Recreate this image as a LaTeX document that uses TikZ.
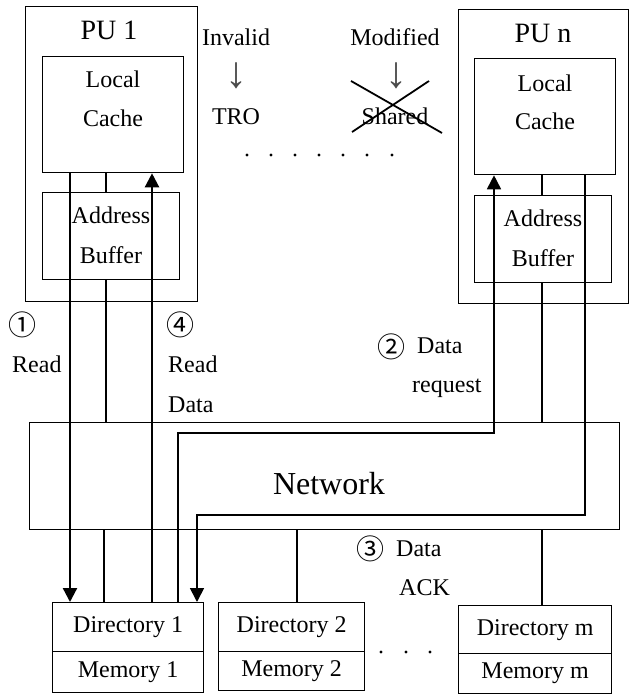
\documentclass[tikz,border=0pt]{standalone}
\usepackage{fontspec}
\setmainfont{Liberation Serif}
\newfontfamily\cjk{Noto Sans CJK SC}
\usetikzlibrary{arrows.meta}

\begin{document}
\begin{tikzpicture}[x=1pt,y=-1pt,
  box/.style={draw, line width=1.3pt, inner sep=0pt, anchor=north west,
              font=\fontsize{24}{28}\selectfont},
  txt/.style={inner sep=0pt, font=\fontsize{24}{28}\selectfont},
  title/.style={inner sep=0pt, font=\fontsize{28}{32}\selectfont, anchor=base},
  downmark/.style={inner sep=0pt, font=\fontsize{44}{48}\selectfont, text=black!70},
  num/.style={inner sep=0pt, font=\cjk\fontsize{28}{32}\selectfont},
  thinline/.style={line width=1.1pt},
  bigarrow/.style={line width=2.3pt, -{Triangle[length=14pt,width=14pt]}},
  midarrow/.style={line width=1.7pt, -{Triangle[length=14pt,width=14pt]}},
  dot/.style={fill=black, draw=none}
]
\fill[white] (0,0) rectangle (632,696);
\useasboundingbox (0,0) rectangle (632,696);

% processing unit 1
\node[box, minimum width=172pt, minimum height=295pt] (pu1) at (25,6) {};
\node[box, minimum width=141pt, minimum height=116pt] (c1) at (42,56) {};
\node[box, minimum width=137pt, minimum height=87pt] (b1) at (42,192) {};
\node[title] (pu1t) at (109,39) {PU 1};
\node[txt, anchor=base] (c1a) at (113,87) {Local};
\node[txt, anchor=base] (c1b) at (113,126) {Cache};
\node[txt, anchor=base] (b1a) at (111,223) {Address};
\node[txt, anchor=base] (b1b) at (111,263) {Buffer};

% processing unit n
\node[box, minimum width=170pt, minimum height=294pt] (pun) at (458,9) {};
\node[box, minimum width=141pt, minimum height=116pt] (cn) at (474,58) {};
\node[box, minimum width=137pt, minimum height=87pt] (bn) at (474,195) {};
\node[title] (punt) at (543,42) {PU n};
\node[txt, anchor=base] (cna) at (545,91) {Local};
\node[txt, anchor=base] (cnb) at (545,129) {Cache};
\node[txt, anchor=base] (bna) at (543,226) {Address};
\node[txt, anchor=base] (bnb) at (543,266) {Buffer};

% state transitions
\node[txt, anchor=base] (inv) at (236,45) {Invalid};
\node[downmark] (inva) at (236,76) {↓};
\node[txt, anchor=base] (tro) at (236,124) {TRO};
\node[txt, anchor=base] (mod) at (395,45) {Modified};
\node[downmark] (moda) at (396,76) {↓};
\node[txt, anchor=base] (shr) at (395,124) {Shared};
\draw[line width=1.8pt] (351,81) -- (442,133);
\draw[line width=1.8pt] (352,132) -- (429,81);

% ellipsis between the processing units
\foreach \x in {247,271,295,319,343,367,392}
  \fill[dot] (\x,155) circle (1.7pt);

% interconnect
\node[box, minimum width=590pt, minimum height=107pt] (net) at (29,422) {};
\node[inner sep=0pt, font=\fontsize{32}{36}\selectfont, anchor=base] (nett) at (329,494) {Network};

% directories and memories
\node[box, minimum width=151pt, minimum height=49pt] (d1) at (52,602) {Directory 1};
\node[box, minimum width=151pt, minimum height=41pt] (m1) at (52,651) {Memory 1};
\node[box, minimum width=146pt, minimum height=49pt] (d2) at (218,602) {Directory 2};
\node[box, minimum width=146pt, minimum height=39pt] (m2) at (218,651) {Memory 2};
\node[box, minimum width=153pt, minimum height=48pt] (dm) at (458,605) {Directory m};
\node[box, minimum width=153pt, minimum height=40pt] (mm) at (458,653) {Memory m};
\foreach \x in {381,406,430}
  \fill[dot] (\x,652) circle (1.7pt);

% column positions of the links
\coordinate (xr) at (70,0);
\coordinate (xm1) at (106,0);
\coordinate (xrd) at (152,0);
\coordinate (xa) at (178,0);
\coordinate (xb) at (197,0);
\coordinate (xan) at (494,0);
\coordinate (xmn) at (542,0);
\coordinate (xbn) at (585,0);
\coordinate (xe1) at (104,0);
\coordinate (xe2) at (297,0);
\coordinate (hA) at (0,433);
\coordinate (hB) at (0,515);

% plain links
\draw[thinline] (c1.south -| xm1) -- (b1.north -| xm1);
\draw[thinline] (b1.south -| xm1) -- (net.north -| xm1);
\draw[thinline] (cn.south -| xmn) -- (bn.north -| xmn);
\draw[thinline] (bn.south -| xmn) -- (net.north -| xmn);
\draw[thinline] (net.south -| xe1) -- (d1.north -| xe1);
\draw[thinline] (net.south -| xe2) -- (d2.north -| xe2);
\draw[thinline] (net.south -| xmn) -- (dm.north -| xmn);

% message flows
\draw[bigarrow] (c1.south -| xr) -- (d1.north -| xr);
\draw[bigarrow] (d1.north -| xrd) -- (c1.south -| xrd);
\draw[midarrow] (d1.north -| xa) -- (xa |- hA) -- (xan |- hA) -- (cn.south -| xan);
\draw[midarrow] (cn.south -| xbn) -- (xbn |- hB) -- (xb |- hB) -- (d1.north -| xb);

% flow labels
\node[num] (n1) at (23,325) {①};
\node[txt, anchor=base west] (r1) at (12,372) {Read};
\node[num] (n4) at (180,325) {④};
\node[txt, anchor=base west] (r4a) at (168,372) {Read};
\node[txt, anchor=base west] (r4b) at (168,412) {Data};
\node[num] (n2) at (391,347) {②};
\node[txt, anchor=base west] (r2a) at (417,353) {Data};
\node[txt, anchor=base west] (r2b) at (412,392) {request};
\node[num] (n3) at (370,549) {③};
\node[txt, anchor=base west] (r3a) at (396,556) {Data};
\node[txt, anchor=base west] (r3b) at (399,595) {ACK};
\end{tikzpicture}
\end{document}
